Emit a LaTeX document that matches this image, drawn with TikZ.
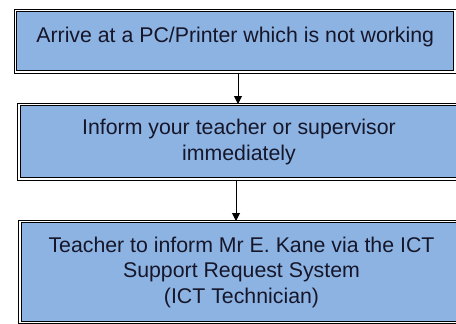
\documentclass[tikz,border=0pt]{standalone}
\usepackage{fontspec}
\setmainfont{Liberation Sans}
\usepackage{tikz}
\usetikzlibrary{arrows.meta, positioning}
\definecolor{boxblue}{HTML}{8DB3E2}
\definecolor{boxtext}{HTML}{16162A}

\begin{document}
\begin{tikzpicture}[x=1pt, y=-1pt]
    \tikzstyle{every node}=[font=\fontsize{21.3}{25.5}\selectfont, text=boxtext]
    \tikzstyle{stepbox}=[rectangle, draw=black, fill=boxblue, double=white,
      double distance=1.3pt, line width=1pt, align=center, inner sep=0pt]
    \tikzstyle{flow}=[-{Triangle[width=8pt, length=8pt]}, line width=1pt]
    \useasboundingbox (0,0) rectangle (456,324);
    \clip (0,0) rectangle (456,324);
    \node [stepbox, line width=1.3pt, minimum width=439.5pt, minimum height=61.5pt,
      text height=15.5pt, text depth=13.5pt] (arrive) at (235.25,41.25)
      {Arrive at a PC/Printer which is not working};
    \node [stepbox, minimum width=440pt, minimum height=74.5pt] (inform) at (239,141.75)
      {Inform your teacher or supervisor\\immediately};
    \node [stepbox, minimum width=443pt, minimum height=101pt] (request) at (241.5,272)
      {Teacher to inform Mr E. Kane via the ICT\\Support Request System\\(ICT Technician)};
    \coordinate (flowA) at (238,0);
    \coordinate (flowB) at (236,0);
    \draw [flow] (arrive.south -| flowA) -- (inform.north -| flowA);
    \draw [flow] (inform.south -| flowB) -- (request.north -| flowB);
\end{tikzpicture}
\end{document}
